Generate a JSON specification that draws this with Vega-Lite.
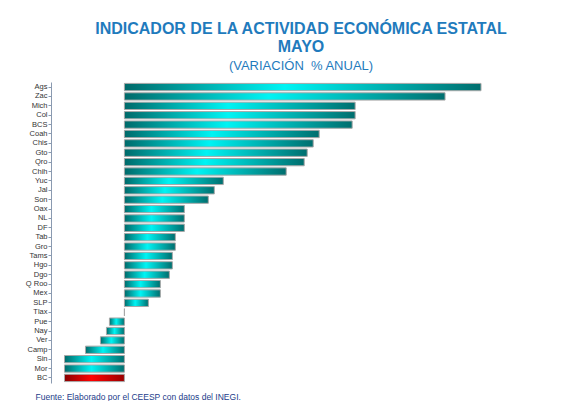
{
  "$schema": "https://vega.github.io/schema/vega-lite/v6.json",
  "width": 442,
  "height": 301,
  "autosize": {"type": "none"},
  "padding": {"left": 51, "top": 82, "right": 86, "bottom": 18},
  "background": "white",
  "view": {"stroke": null},
  "title": {
    "text": ["INDICADOR DE LA ACTIVIDAD ECONÓMICA ESTATAL", "MAYO"],
    "subtitle": "(VARIACIÓN\u00a0 % ANUAL)",
    "anchor": "middle",
    "frame": "group",
    "dx": 29,
    "offset": 9,
    "font": "Liberation Sans",
    "fontSize": 16,
    "fontWeight": "bold",
    "color": "#1f7bbd",
    "lineHeight": 18,
    "subtitleFont": "Liberation Sans",
    "subtitleFontSize": 13,
    "subtitleColor": "#1f7bbd",
    "subtitlePadding": 5
  },
  "data": {
    "values": [
      {"estado": "Ags", "valor": 11.9},
      {"estado": "Zac", "valor": 10.7},
      {"estado": "Mich", "valor": 7.7},
      {"estado": "Col", "valor": 7.7},
      {"estado": "BCS", "valor": 7.6},
      {"estado": "Coah", "valor": 6.5},
      {"estado": "Chis", "valor": 6.3},
      {"estado": "Gto", "valor": 6.1},
      {"estado": "Qro", "valor": 6.0},
      {"estado": "Chih", "valor": 5.4},
      {"estado": "Yuc", "valor": 3.3},
      {"estado": "Jal", "valor": 3.0},
      {"estado": "Son", "valor": 2.8},
      {"estado": "Oax", "valor": 2.0},
      {"estado": "NL", "valor": 2.0},
      {"estado": "DF", "valor": 2.0},
      {"estado": "Tab", "valor": 1.7},
      {"estado": "Gro", "valor": 1.7},
      {"estado": "Tams", "valor": 1.6},
      {"estado": "Hgo", "valor": 1.6},
      {"estado": "Dgo", "valor": 1.5},
      {"estado": "Q Roo", "valor": 1.2},
      {"estado": "Mex", "valor": 1.2},
      {"estado": "SLP", "valor": 0.8},
      {"estado": "Tlax", "valor": 0.0},
      {"estado": "Pue", "valor": -0.5},
      {"estado": "Nay", "valor": -0.6},
      {"estado": "Ver", "valor": -0.8},
      {"estado": "Camp", "valor": -1.3},
      {"estado": "Sin", "valor": -2.0},
      {"estado": "Mor", "valor": -2.0},
      {"estado": "BC", "valor": -2.0}
    ]
  },
  "encoding": {
    "y": {
      "field": "estado",
      "type": "nominal",
      "sort": null,
      "scale": {"paddingInner": 0.22, "paddingOuter": 0.15},
      "axis": {
        "title": null,
        "labelFont": "Liberation Sans",
        "labelFontSize": 7.5,
        "labelColor": "#333333",
        "labelPadding": 1,
        "tickSize": 3,
        "tickColor": "#8a9ab0",
        "domainColor": "#8a9ab0",
        "labelBound": false
      }
    },
    "x": {
      "field": "valor",
      "type": "quantitative",
      "scale": {"domain": [-2.45, 12.3], "nice": false, "zero": true},
      "axis": {
        "grid": false,
        "domain": false,
        "ticks": false,
        "labels": false,
        "title": "Fuente:  Elaborado por el CEESP con datos del INEGI.",
        "titleFont": "Liberation Sans",
        "titleFontSize": 8.5,
        "titleFontWeight": "normal",
        "titleColor": "#233d8a",
        "titleAnchor": "start",
        "titleAlign": "left",
        "titleX": -16,
        "titleY": 16,
        "titleBaseline": "alphabetic"
      }
    }
  },
  "layer": [
    {
      "transform": [{"filter": "datum.estado !== 'BC'"}],
      "mark": {
        "type": "bar",
        "stroke": "#a8a8a8",
        "strokeWidth": 1,
        "color": {
          "gradient": "linear",
          "x1": 0, "y1": 0, "x2": 1, "y2": 0,
          "stops": [
            {"offset": 0, "color": "#006a6a"},
            {"offset": 0.45, "color": "#00f4f4"},
            {"offset": 1, "color": "#006e6e"}
          ]
        }
      }
    },
    {
      "transform": [{"filter": "datum.estado === 'BC'"}],
      "mark": {
        "type": "bar",
        "stroke": "#a8a8a8",
        "strokeWidth": 1,
        "color": {
          "gradient": "linear",
          "x1": 0, "y1": 0, "x2": 1, "y2": 0,
          "stops": [
            {"offset": 0, "color": "#8a0000"},
            {"offset": 0.45, "color": "#ff0000"},
            {"offset": 1, "color": "#9a0000"}
          ]
        }
      }
    }
  ]
}
